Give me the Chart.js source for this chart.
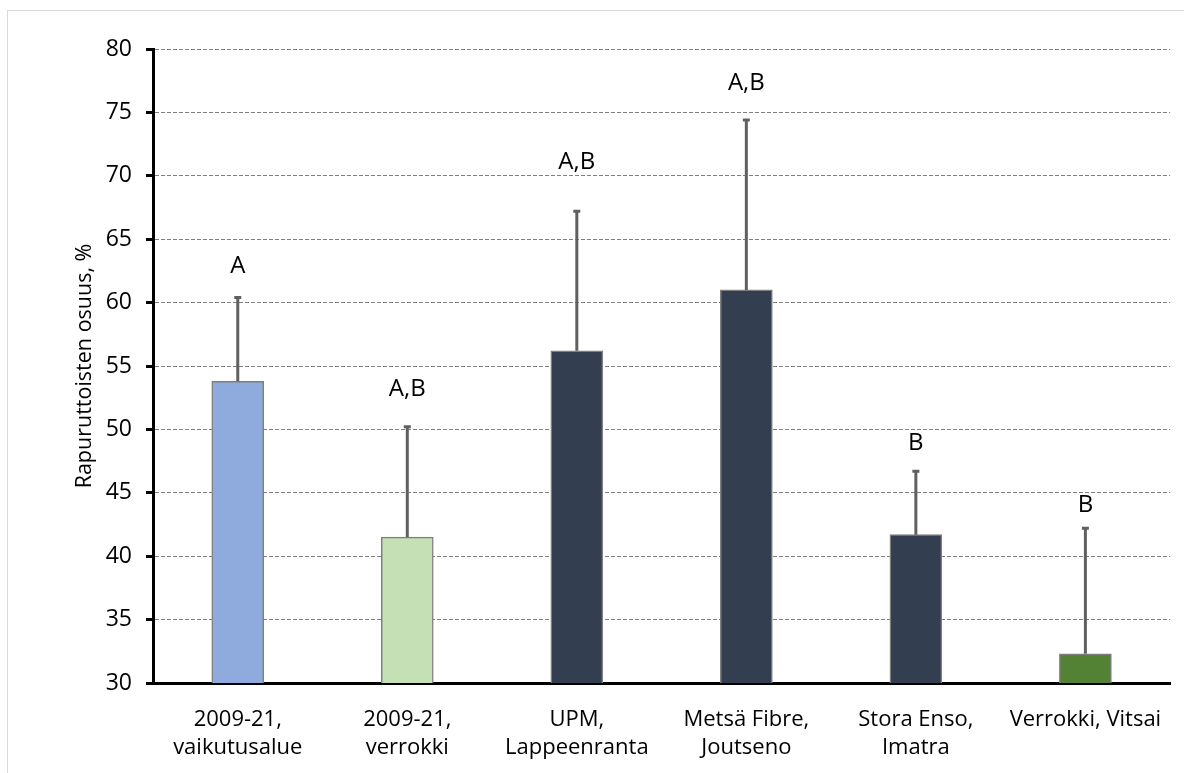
<!DOCTYPE html>
<html>
<head>
<meta charset="utf-8">
<script src="https://cdn.jsdelivr.net/npm/chart.js@4"></script>
<style>
  html, body { margin: 0; padding: 0; background: #fff; }
  #frame {
    position: absolute; left: 7px; top: 10px;
    width: 1177px; height: 763px;
    border-left: 1px solid #d9d9d9; border-top: 1px solid #d9d9d9;
  }
  canvas { display: block; }
</style>
</head>
<body>
<div id="frame"><canvas id="rapuChart" width="1176" height="762"></canvas></div>
<script>
// Rapuruttoisten osuus eri alueilla
const categories = [
  ['2009-21,', 'vaikutusalue'],
  ['2009-21,', 'verrokki'],
  ['UPM,', 'Lappeenranta'],
  ['Metsä Fibre,', 'Joutseno'],
  ['Stora Enso,', 'Imatra'],
  'Verrokki, Vitsai'
];
const shares = [53.8, 41.5, 56.2, 61.0, 41.7, 32.3];
const upperError = [60.4, 50.2, 67.2, 74.4, 46.7, 42.2];
const groupLetters = ['A', 'A,B', 'A,B', 'A,B', 'B', 'B'];
const letterAt = [62.9, 53.2, 71.1, 77.3, 48.9, 44.0];
const yTicks = [30, 35, 40, 45, 50, 55, 60, 65, 70, 75, 80];

const barColors = ['#8faadc', '#c5e0b4', '#333f50', '#333f50', '#333f50', '#548235'];
const fontFamily = '"Open Sans", Lato, sans-serif';

// error bars (upper only) + group letters above them
const errorBars = {
  id: 'errorBars',
  afterDatasetsDraw(chart) {
    const ctx = chart.ctx;
    const y = chart.scales.y;
    const meta = chart.getDatasetMeta(0);
    ctx.save();
    ctx.strokeStyle = '#606060';
    ctx.lineWidth = 3;
    meta.data.forEach((bar, i) => {
      const top = y.getPixelForValue(upperError[i]);
      ctx.beginPath();
      ctx.moveTo(bar.x, bar.y);
      ctx.lineTo(bar.x, top);
      ctx.moveTo(bar.x - 3.5, top);
      ctx.lineTo(bar.x + 3.5, top);
      ctx.stroke();

      ctx.fillStyle = '#000';
      ctx.font = '24px ' + fontFamily;
      ctx.textAlign = 'center';
      ctx.textBaseline = 'middle';
      ctx.fillText(groupLetters[i], bar.x, y.getPixelForValue(letterAt[i]));
    });
    ctx.restore();
  }
};

new Chart('rapuChart', {
  type: 'bar',
  data: {
    labels: categories,
    datasets: [{
      data: shares,
      backgroundColor: barColors,
      borderColor: '#7f7f7f',
      borderWidth: 1.5,
      barThickness: 52
    }]
  },
  options: {
    responsive: false,
    animation: false,
    layout: { padding: { left: 62, right: 10, top: 38, bottom: 0 } },
    plugins: {
      legend: { display: false },
      tooltip: { enabled: false }
    },
    scales: {
      x: {
        grid: { display: false, drawTicks: false },
        border: { display: true, color: '#000', width: 3 },
        ticks: {
          color: '#000',
          padding: 22,
          maxRotation: 0,
          font: { family: fontFamily, size: 22, lineHeight: 1.3 }
        },
        afterFit(scale) { scale.height = 90; }
      },
      y: {
        min: 30,
        max: 80,
        afterBuildTicks(scale) { scale.ticks = yTicks.map(v => ({ value: v })); },
        grid: {
          color: '#808080',
          lineWidth: 1,
          tickColor: '#000',
          tickWidth: 3,
          tickLength: 7,
          tickBorderDash: []
        },
        border: { display: true, color: '#000', width: 3, dash: [4, 2] },
        ticks: {
          color: '#000',
          padding: 14,
          font: { family: fontFamily, size: 23 }
        },
        title: {
          display: true,
          text: 'Rapuruttoisten osuus, %',
          color: '#000',
          padding: { top: 2, bottom: 0 },
          font: { family: fontFamily, size: 21.5 }
        },
        afterFit(scale) { scale.width = 83; }
      }
    }
  },
  plugins: [errorBars]
});
</script>
</body>
</html>
